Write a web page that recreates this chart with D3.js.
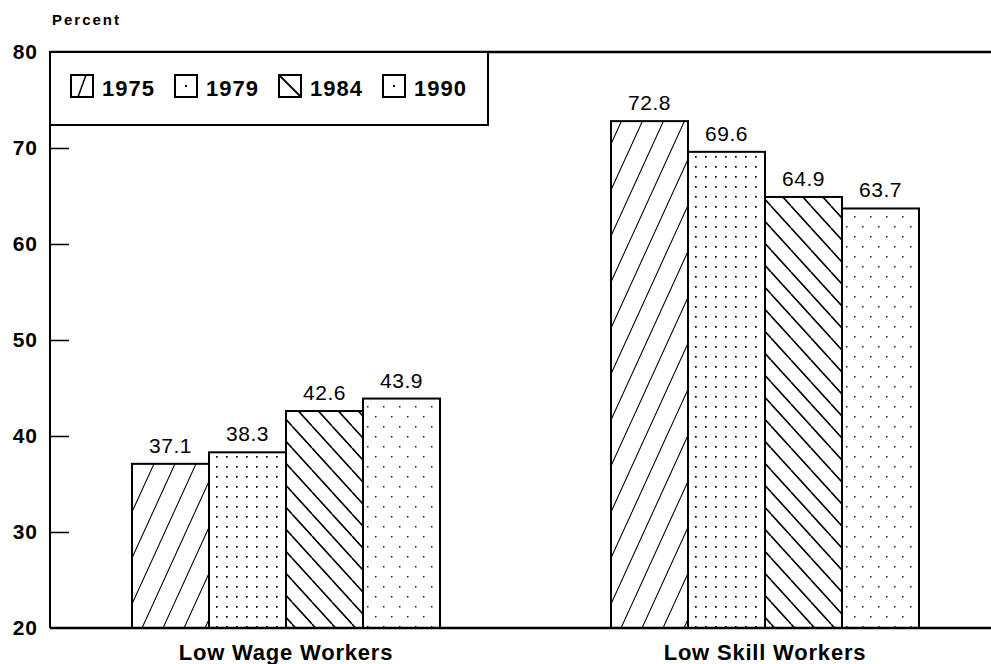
<!DOCTYPE html>
<meta charset="utf-8">
<script src="https://d3js.org/d3.v7.min.js"></script>
<style>
  body { margin: 0; background: #fff; }
  text { font-family: "Liberation Sans", Arial, Helvetica, sans-serif; fill: #000; }
</style>
<div id="my_dataviz"></div>
<script>

// data
var categories = ["Low Wage Workers", "Low Skill Workers"];
var years = ["1975", "1979", "1984", "1990"];
var lowWage = [37.1, 38.3, 42.6, 43.9];
var lowSkill = [72.8, 69.6, 64.9, 63.7];
var yTicks = [20, 30, 40, 50, 60, 70, 80];

var values = [lowWage, lowSkill];

var W = 991, H = 664;
var margin = {top: 52, right: 0, bottom: 36, left: 50},
    width = W - margin.left - margin.right,
    height = H - margin.top - margin.bottom;

var svg = d3.select("#my_dataviz")
  .append("svg")
    .attr("width", W)
    .attr("height", H);

// fill patterns
var defs = svg.append("defs");

// 1975: steep forward hatch
var p1 = defs.append("pattern")
    .attr("id", "pat1975")
    .attr("patternUnits", "userSpaceOnUse")
    .attr("width", 21).attr("height", 46);
p1.append("path")
    .attr("d", "M0,46 L21,0 M-21,46 L0,0 M21,46 L42,0")
    .attr("stroke", "#000").attr("stroke-width", 1.1).attr("fill", "none");

// 1979: dense dot grid
var p2 = defs.append("pattern")
    .attr("id", "pat1979")
    .attr("patternUnits", "userSpaceOnUse")
    .attr("width", 10).attr("height", 10);
p2.append("rect").attr("x", 4).attr("y", 4).attr("width", 1.7).attr("height", 1.7).attr("fill", "#000");

// 1984: back hatch
var p3 = defs.append("pattern")
    .attr("id", "pat1984")
    .attr("patternUnits", "userSpaceOnUse")
    .attr("width", 20).attr("height", 22);
p3.append("path")
    .attr("d", "M0,0 L20,22 M-20,0 L0,22 M20,0 L40,22")
    .attr("stroke", "#000").attr("stroke-width", 1.6).attr("fill", "none");

// 1990: sparse staggered dots
var p4 = defs.append("pattern")
    .attr("id", "pat1990")
    .attr("patternUnits", "userSpaceOnUse")
    .attr("width", 16).attr("height", 20);
p4.append("rect").attr("x", 3).attr("y", 4).attr("width", 1.5).attr("height", 1.5).attr("fill", "#222");
p4.append("rect").attr("x", 11).attr("y", 14).attr("width", 1.5).attr("height", 1.5).attr("fill", "#222");

var fills = ["url(#pat1975)", "url(#pat1979)", "url(#pat1984)", "url(#pat1990)"];

var g = svg.append("g")
    .attr("transform", "translate(" + margin.left + "," + margin.top + ")");

var y = d3.scaleLinear()
    .domain([20, 80])
    .range([height, 0]);

var x0 = d3.scaleBand()
    .domain(categories)
    .range([82, 869])
    .paddingInner(0.357)
    .paddingOuter(0);

var x1 = d3.scaleBand()
    .domain(years)
    .range([0, x0.bandwidth()]);

// y axis, ticks pointing inward
var yAxis = g.append("g")
    .call(d3.axisRight(y).tickValues(yTicks).tickSize(19).tickFormat(d3.format("d")));
yAxis.select(".domain").remove();
yAxis.selectAll(".tick line").attr("stroke-width", 1.5)
    .filter(function(d) { return d == 20 || d == 80; }).remove();
yAxis.selectAll(".tick text")
    .attr("x", -12)
    .attr("text-anchor", "end")
    .style("font-size", "21px")
    .style("font-weight", "bold")
    .style("letter-spacing", "1px");

// frame lines
g.append("line").attr("x1", 0).attr("x2", 0).attr("y1", 0).attr("y2", height)
    .attr("stroke", "#000").attr("stroke-width", 2);
g.append("line").attr("x1", 0).attr("x2", width).attr("y1", 0).attr("y2", 0)
    .attr("stroke", "#000").attr("stroke-width", 2.5);

// bars
var groups = g.selectAll(".grp")
  .data(categories)
  .enter().append("g")
    .attr("transform", function(d) { return "translate(" + x0(d) + ",0)"; });

groups.selectAll("rect")
  .data(function(d, i) { return values[i].map(function(v, j) { return {year: years[j], value: v, j: j}; }); })
  .enter().append("rect")
    .attr("x", function(d) { return x1(d.year); })
    .attr("y", function(d) { return y(d.value); })
    .attr("width", x1.bandwidth())
    .attr("height", function(d) { return height - y(d.value); })
    .attr("fill", function(d) { return fills[d.j]; })
    .attr("stroke", "#000")
    .attr("stroke-width", 2);

groups.selectAll(".val")
  .data(function(d, i) { return values[i].map(function(v, j) { return {year: years[j], value: v}; }); })
  .enter().append("text")
    .attr("x", function(d) { return x1(d.year) + x1.bandwidth() / 2; })
    .attr("y", function(d) { return y(d.value) - 11; })
    .attr("text-anchor", "middle")
    .style("font-size", "21px")
    .style("letter-spacing", "0.5px")
    .text(function(d) { return d3.format(".1f")(d.value); });

// baseline
g.append("line").attr("x1", 0).attr("x2", width).attr("y1", height).attr("y2", height)
    .attr("stroke", "#000").attr("stroke-width", 2.5);

// category labels
g.selectAll(".cat")
  .data(categories)
  .enter().append("text")
    .attr("x", function(d) { return x0(d) + x0.bandwidth() / 2; })
    .attr("y", height + 32)
    .attr("text-anchor", "middle")
    .style("font-size", "22px")
    .style("font-weight", "bold")
    .style("letter-spacing", "0.8px")
    .text(function(d) { return d; });

// y title
svg.append("text")
    .attr("x", 52).attr("y", 25)
    .style("font-size", "15px")
    .style("font-weight", "bold")
    .style("letter-spacing", "2px")
    .text("Percent");

// legend
var legend = g.append("g");
legend.append("rect")
    .attr("x", 0).attr("y", 0).attr("width", 438).attr("height", 73)
    .attr("fill", "#fff").attr("stroke", "#000").attr("stroke-width", 2);

var legX = [21, 125, 229, 333];
var sw = 22, sh = 22;
var items = legend.selectAll(".item")
  .data(years)
  .enter().append("g")
    .attr("transform", function(d, i) { return "translate(" + legX[i] + ",23)"; });
items.append("rect")
    .attr("width", sw).attr("height", sh)
    .attr("fill", "#fff")
    .attr("stroke", "#000").attr("stroke-width", 2);
// swatch glyphs: a single stroke or dot from each fill
items.filter(function(d, i) { return i == 0; }).append("line")
    .attr("x1", 7).attr("y1", sh).attr("x2", 15).attr("y2", 0)
    .attr("stroke", "#000").attr("stroke-width", 1.5);
items.filter(function(d, i) { return i == 2; }).append("line")
    .attr("x1", 0).attr("y1", 0).attr("x2", sw).attr("y2", sh)
    .attr("stroke", "#000").attr("stroke-width", 1.8);
items.filter(function(d, i) { return i == 1 || i == 3; }).append("rect")
    .attr("x", sw / 2 - 1).attr("y", sh / 2 - 1).attr("width", 2).attr("height", 2)
    .attr("fill", "#000");
items.append("text")
    .attr("x", sw + 9).attr("y", sh - 1)
    .style("font-size", "22px")
    .style("font-weight", "bold")
    .style("letter-spacing", "1px")
    .text(function(d) { return d; });

</script>
